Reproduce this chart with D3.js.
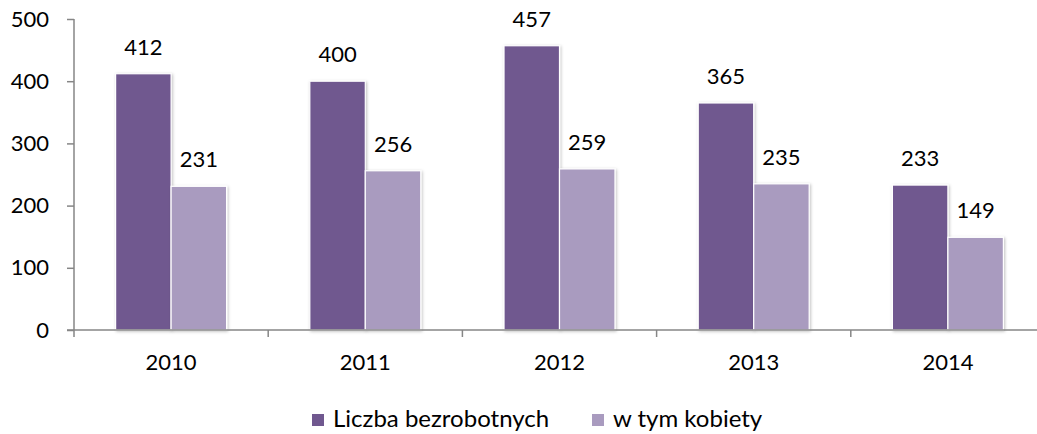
<!DOCTYPE html>
<html>
<head>
<meta charset="utf-8">
<script src="https://cdnjs.cloudflare.com/ajax/libs/d3/7.8.5/d3.min.js"></script>
<style>
  body { margin: 0; background: #fff; }
  text { font-family: Lato, "Open Sans", sans-serif; fill: #000; }
</style>
</head>
<body>
<svg id="chart" width="1037" height="434"></svg>
<script>
// data
var years = ['2010', '2011', '2012', '2013', '2014'];
var unemployed = [412, 400, 457, 365, 233];
var women = [231, 256, 259, 235, 149];
var seriesNames = ['Liczba bezrobotnych', 'w tym kobiety'];
var yTicks = [0, 100, 200, 300, 400, 500];

var colors = ['#70588f', '#a99bbf'];
var fs = '22px';

var svg = d3.select('#chart');
var padL = 74, padR = 1045, padT = 19, padB = 330;

var x = d3.scaleBand().domain(years).range([padL, padR]).paddingInner(0).paddingOuter(0);
var y = d3.scaleLinear().domain([0, 500]).range([padB, padT]);

var barW = x.bandwidth() / 3.5;

// shadow filter
var defs = svg.append('defs');
var f = defs.append('filter').attr('id', 'sh').attr('x', '-20%').attr('y', '-20%').attr('width', '150%').attr('height', '150%');
f.append('feDropShadow').attr('dx', 1).attr('dy', 1).attr('stdDeviation', 1.5).attr('flood-color', '#000').attr('flood-opacity', 0.25);

// y axis
var yAxis = svg.append('g').attr('transform', 'translate(' + padL + ',0)')
    .call(d3.axisLeft(y).tickValues(yTicks).tickSize(7).tickPadding(18).tickFormat(d3.format('d')));
yAxis.select('.domain').attr('stroke', '#868686').attr('stroke-width', 1.5).attr('d', 'M0,' + padT + 'V' + padB);
yAxis.selectAll('.tick line').attr('stroke', '#868686').attr('stroke-width', 1.5);
yAxis.selectAll('.tick text').style('font-size', fs).attr('fill', '#000');

var series = [unemployed, women];

series.forEach(function(vals, si) {
    var g = svg.append('g');
    g.selectAll('rect')
        .data(vals)
        .enter().append('rect')
            .attr('x', function(d, i) { return x(years[i]) + x.bandwidth() / 2 - barW + si * barW; })
            .attr('y', function(d) { return y(d); })
            .attr('width', barW)
            .attr('height', function(d) { return padB - y(d); })
            .attr('fill', colors[si])
            .attr('stroke', '#fff')
            .attr('stroke-width', 1.2)
            .attr('filter', 'url(#sh)');
    g.selectAll('text')
        .data(vals)
        .enter().append('text')
            .attr('x', function(d, i) { return x(years[i]) + x.bandwidth() / 2 - barW / 2 + si * barW; })
            .attr('y', function(d) { return y(d) - 19; })
            .attr('text-anchor', 'middle')
            .style('font-size', fs)
            .text(function(d) { return d; });
});

// x axis
var xAxis = svg.append('g').attr('transform', 'translate(0,' + padB + ')')
    .call(d3.axisBottom(x).tickSize(0).tickPadding(24));
xAxis.select('.domain').attr('stroke', '#868686').attr('stroke-width', 1.5).attr('d', 'M' + (padL - 7) + ',0H' + padR);
xAxis.selectAll('.tick text').style('font-size', fs).attr('fill', '#000');
svg.append('g').selectAll('line')
    .data(years.concat(['end']))
    .enter().append('line')
        .attr('x1', function(d, i) { return padL + i * x.bandwidth(); })
        .attr('x2', function(d, i) { return padL + i * x.bandwidth(); })
        .attr('y1', padB)
        .attr('y2', padB + 7)
        .attr('stroke', '#868686')
        .attr('stroke-width', 1.5);

// legend
var legendX = [312, 592];
var lg = svg.append('g').selectAll('g')
    .data(seriesNames)
    .enter().append('g')
        .attr('transform', function(d, i) { return 'translate(' + legendX[i] + ',414)'; });
lg.append('rect').attr('width', 12).attr('height', 12).attr('fill', function(d, i) { return colors[i]; });
lg.append('text').attr('x', 21).attr('y', 13).style('font-size', '24px').text(function(d) { return d; });
</script>
</body>
</html>
